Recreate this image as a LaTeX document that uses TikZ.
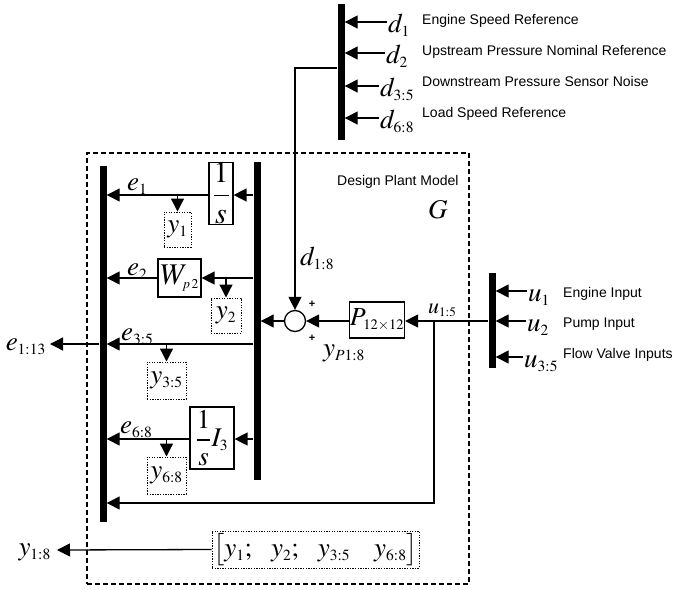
\documentclass[tikz,border=0pt]{standalone}
\usepackage{mathptmx}
\usepackage[no-math]{fontspec}
\newfontfamily\arialf{Liberation Sans}
\usetikzlibrary{arrows.meta}
\DeclareMathSizes{27}{27}{15.5}{11}
\DeclareMathSizes{30}{30}{13.5}{10}
\DeclareMathSizes{26}{26}{14.5}{10}
\DeclareMathSizes{22}{22}{13}{9}
\begin{document}
\begin{tikzpicture}[x=1pt,y=-1pt,
  arr/.style={line width=1.3pt,-{Triangle[length=13pt,width=13pt]}},
  bus/.style={fill=black,draw=none,minimum width=7pt,inner sep=0pt},
  blk/.style={draw,line width=1.2pt,inner sep=0pt,font=\fontsize{27}{32}\selectfont},
  dotbox/.style={draw,line width=1pt,dash pattern=on 1.3pt off 1.3pt,inner sep=0pt,font=\fontsize{27}{32}\selectfont},
  mlab/.style={inner sep=0pt,font=\fontsize{27}{32}\selectfont},
  mlabs/.style={inner sep=0pt,font=\fontsize{22}{26}\selectfont},
  slab/.style={inner sep=0pt,font=\arialf\fontsize{14}{16}\selectfont},
  plus/.style={inner sep=0pt,font=\arialf\bfseries\fontsize{11}{12}\selectfont}]
\useasboundingbox (0,0) rectangle (696,589);
% plant frame
\node[draw,line width=1.5pt,dash pattern=on 5pt off 3pt,minimum width=382pt,minimum height=431pt,inner sep=0pt] (plant) at (278,368.5) {};
\node[slab,anchor=base west] (title) at (337,185) {Design Plant Model};
\node[mlab,anchor=base west] (G) at (428,218) {$G$};
% buses
\node[bus,minimum height=356pt] (bus1) at (103,344) {};
\node[bus,minimum height=318pt] (bus2) at (257,321) {};
\node[bus,minimum height=136pt] (dbus) at (341,72) {};
\node[bus,minimum height=95pt] (ubus) at (492,320.5) {};
% blocks
\node[blk,minimum width=24pt,minimum height=61pt,font=\fontsize{30}{34}\selectfont] (s1) at (221,193.5) {$\displaystyle\frac{1}{s}$};
\node[blk,minimum width=43pt,minimum height=38pt,font=\fontsize{30}{34}\selectfont] (W) at (179.5,278) {$W_{p\,2}$};
\node[blk,minimum width=44pt,minimum height=62pt] (I3) at (212,438) {$\displaystyle\frac{1}{s}I_3$};
\node[blk,minimum width=55pt,minimum height=36pt,font=\fontsize{26}{30}\selectfont] (P) at (377,320) {$P_{\kern1pt 12\times12}$};
\node[draw,circle,line width=1.3pt,minimum size=21pt,inner sep=0pt] (sum) at (295,321) {};
% output boxes
\node[dotbox,minimum width=27pt,minimum height=35pt] (y1) at (177.5,229.5) {$y_1$};
\node[dotbox,minimum width=30pt,minimum height=35pt] (y2) at (226,315.5) {$y_2$};
\node[dotbox,minimum width=39pt,minimum height=37pt] (y35) at (166.5,380.5) {$y_{3:5}$};
\node[dotbox,minimum width=39pt,minimum height=37pt] (y68) at (166.5,475.5) {$y_{6:8}$};
\node[dotbox,minimum width=207pt,minimum height=37pt] (vec) at (315.5,549.5) {$\bigl[y_1;\hspace{16pt}y_2;\hspace{16pt}y_{3:5}\hspace{24pt}y_{6:8}\bigr]$};
% row coordinates
\coordinate (r1) at (0,195);
\coordinate (r2) at (0,278);
\coordinate (r3) at (0,344);
\coordinate (r4) at (0,439);
\coordinate (r5) at (0,503);
\coordinate (rP) at (0,321);
\coordinate (rd) at (0,68);
\coordinate (ub) at (434,321);
\coordinate (etip) at (50,344);
\coordinate (ytip) at (57,550);
% row 1
\draw[arr] (bus2.west |- r1) -- (s1.east |- r1);
\draw[arr] (s1.west |- r1) -- (bus1.east |- r1);
\draw[arr] (y1.north |- r1) -- (y1.north);
% row 2
\draw[arr] (bus2.west |- r2) -- (W.east);
\draw[arr] (W.west) -- (bus1.east |- r2);
\draw[arr] (y2.north |- r2) -- (y2.north);
% row 3
\draw[arr] (bus2.west |- r3) -- (bus1.east |- r3);
\draw[arr] (y35.north |- r3) -- (y35.north);
\draw[arr] (bus1.west |- r3) -- (etip);
% row 4
\draw[arr] (bus2.west |- r4) -- (I3.east |- r4);
\draw[arr] (I3.west |- r4) -- (bus1.east |- r4);
\draw[arr] (y68.north |- r4) -- (y68.north);
% plant path
\draw[arr] (ubus.west |- rP) -- (P.east |- rP);
\draw[arr] (P.west |- rP) -- (sum.east);
\draw[arr] (sum.west) -- (bus2.east |- rP);
\draw[arr] (ub) |- (bus1.east |- r5);
\draw[arr] (dbus.west |- rd) -| (sum.north);
\draw[arr] (vec.west) -- (ytip);
% labels
\node[mlab,anchor=base west] (le1) at (127,190) {$e_1$};
\node[mlab,anchor=base west] (le2) at (127,275) {$e_2$};
\node[mlab,anchor=base west] (le35) at (121,340) {$e_{3:5}$};
\node[mlab,anchor=base west] (le68) at (120,433) {$e_{6:8}$};
\node[mlab,anchor=base east] (le113) at (46,350) {$e_{1:13}$};
\node[mlab,anchor=base east] (ly18) at (51,555) {$y_{1:8}$};
\node[mlab,anchor=base west] (ld18) at (300,265) {$d_{1:8}$};
\node[mlab,anchor=base west] (lyP) at (323,356) {$y_{P1:8}$};
\node[mlabs,anchor=base west] (lu15) at (428,313) {$u_{1:5}$};
\node[plus] (p1) at (312,304) {+};
\node[plus] (p2) at (312,338) {+};
% disturbance inputs
\foreach \n/\y/\x/\lab/\txt/\ty in {1/22/388/d_1/Engine Speed Reference/24,
  2/53/386/d_2/Upstream Pressure Nominal Reference/55,
  3/86/380/d_{3:5}/Downstream Pressure Sensor Noise/86,
  4/118/380/d_{6:8}/Load Speed Reference/117}{
  \coordinate (dd\n) at (\x-1,\y);
  \draw[arr] (dd\n) -- (dbus.east |- dd\n);
  \node[mlab,anchor=base west] (dl\n) at (\x,\y+10) {$\lab$};
  \node[slab,anchor=base west] (dt\n) at (422,\ty) {\txt};
}
% control inputs
\foreach \n/\y/\x/\lab/\txt/\ty in {1/291/528/u_1/Engine Input/297,
  2/321/527/u_2/Pump Input/327,
  3/357/524/u_{3:5}/Flow Valve Inputs/358}{
  \coordinate (uu\n) at (\x-1,\y);
  \draw[arr] (uu\n) -- (ubus.east |- uu\n);
  \node[mlab,anchor=base west] (ul\n) at (\x,\y+10) {$\lab$};
  \node[slab,anchor=base west] (ut\n) at (563,\ty) {\txt};
}
\end{tikzpicture}
\end{document}
